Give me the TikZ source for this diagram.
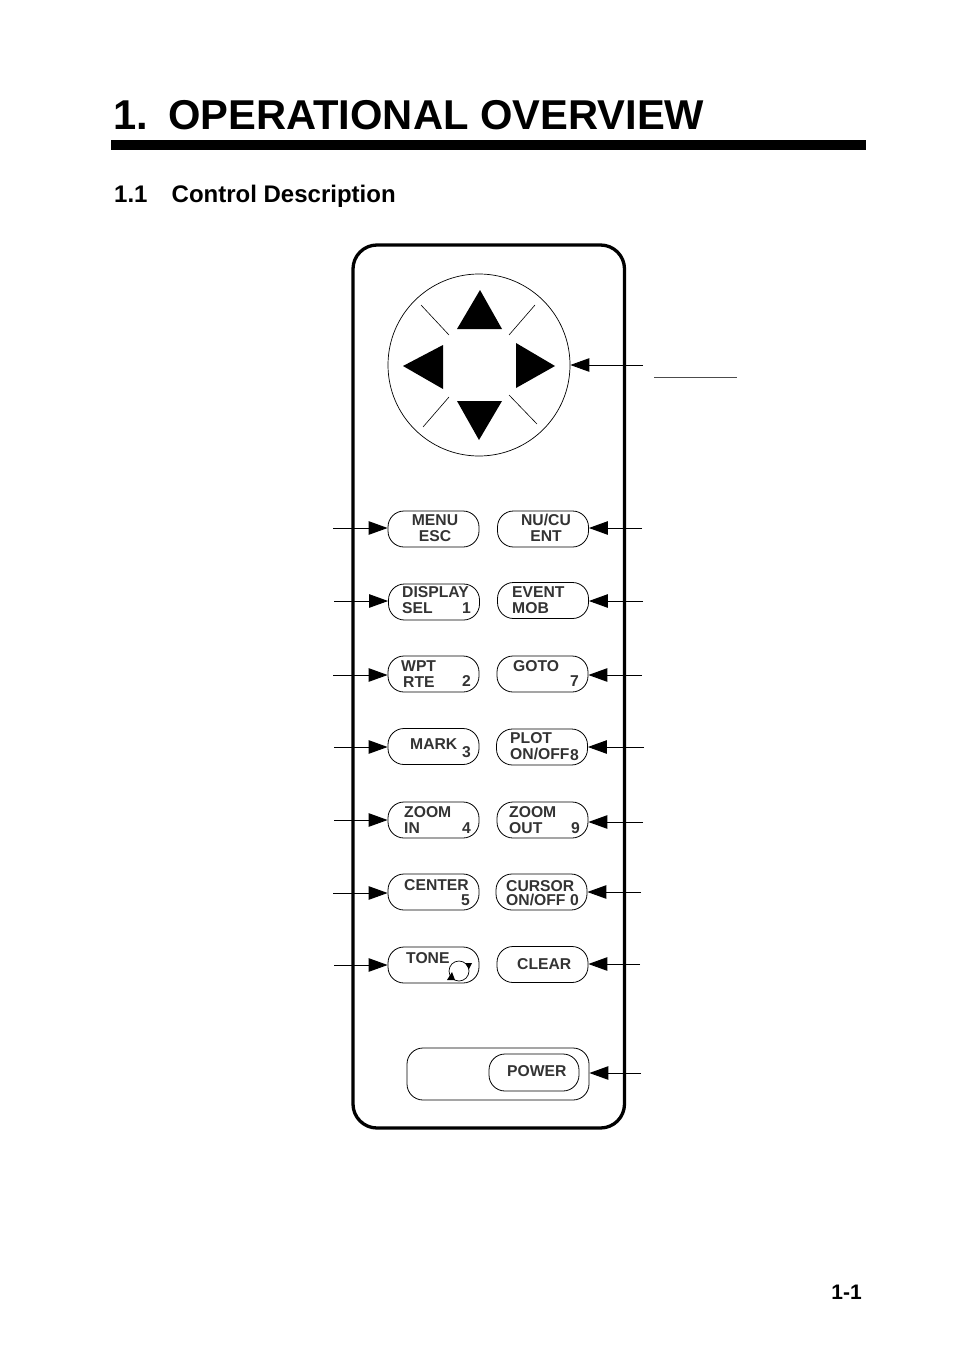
\documentclass[tikz,border=0pt]{standalone}
\usepackage{fontspec}
\setmainfont{Liberation Sans}
\usetikzlibrary{arrows.meta}
\tikzset{
  keybox/.style={draw,rounded corners=16pt,minimum width=91pt,minimum height=36pt,inner sep=0pt,line width=.8pt},
  keytext/.style={font=\bfseries\fontsize{15.7}{16}\selectfont,text=black!80,inner sep=0pt,align=left,anchor=north west},
  keymid/.style={keytext,align=center,anchor=north},
  keytip/.style={draw,line width=.9pt,-{Triangle[length=19pt,width=13.5pt]}}
}
\begin{document}
\begin{tikzpicture}[x=1pt,y=-1pt]
  \useasboundingbox (0,0) rectangle (954,1351);

  \node[font=\bfseries\fontsize{41.7}{42}\selectfont,anchor=base west,inner sep=0pt] (num) at (113,130) {1.};
  \node[font=\bfseries\fontsize{41.7}{42}\selectfont,anchor=base west,inner sep=0pt] (title) at (168,130) {OPERATIONAL OVERVIEW};
  \fill (111,140) rectangle (866,150);
  \node[font=\bfseries\fontsize{24}{24}\selectfont,anchor=base west,inner sep=0pt] (secnum) at (114,202) {1.1};
  \node[font=\bfseries\fontsize{24}{24}\selectfont,anchor=base west,inner sep=0pt] (section) at (171.5,202) {Control Description};
  \node[font=\bfseries\fontsize{21}{21}\selectfont,anchor=base east,inner sep=0pt] (page) at (862,1299) {1-1};

  % body and pad
  \draw[line width=3.3pt,rounded corners=24pt] (353,245) rectangle (624.5,1128);
  \node[draw,circle,minimum size=182pt,inner sep=0pt,line width=.7pt] (pad) at (479,365) {};
  \fill (480,290) -- (457,329) -- (502,329) -- cycle;
  \fill (403,366) -- (443,345) -- (443,389) -- cycle;
  \fill (555,366) -- (516,343) -- (516,388) -- cycle;
  \fill (479,440) -- (457,401) -- (502,401) -- cycle;
  \draw[line width=.6pt] (421,305) -- (449,335);
  \draw[line width=.6pt] (535,305) -- (509,335);
  \draw[line width=.6pt] (423,427) -- (449,397);
  \draw[line width=.6pt] (537,424) -- (509,395);
  \draw[line width=.7pt,black!70] (654,377) -- (737,377);

  % keys
  \begin{scope}[every node/.style={keybox}]
    \node (menu)    at (433.5,529) {};
    \node (display) at (434,602) {};
    \node (wpt)     at (433.5,674) {};
    \node (mark)    at (433.5,746.5) {};
    \node (zoomin)  at (433.5,820) {};
    \node (center)  at (433.5,892) {};
    \node (tone)    at (433.5,965) {};
    \node (nucu)    at (543,529) {};
    \node (event)   at (543,600.5) {};
    \node (goto)    at (542.5,674) {};
    \node (plot)    at (542,747) {};
    \node (zoomout) at (542.5,820) {};
    \node (cursor)  at (541.5,892) {};
    \node (clear)   at (542.5,964.5) {};
    \node[minimum width=182pt,minimum height=52pt] (bay) at (498,1074) {};
    \node[minimum width=90pt,minimum height=37pt] (power) at (534,1072.5) {};
  \end{scope}

  % key texts
  \begin{scope}[every node/.style={keytext}]
    \node[keymid] (menut)  at (435,514.3) {MENU\\ESC};
    \node[keymid] (nucut)  at (546,514) {NU/CU\\ENT};
    \node (displayt) at (402,586.4) {DISPLAY\\SEL};
    \node (eventt)   at (512,586.4) {EVENT\\MOB};
    \node (wptt)     at (401,660.3) {WPT};
    \node (rtet)     at (403,676) {RTE};
    \node (gotot)    at (513,660) {GOTO};
    \node (markt)    at (410,738) {MARK};
    \node (plott)    at (510,732) {PLOT\\ON/OFF};
    \node (zoomint)  at (404,806) {ZOOM\\IN};
    \node (zoomoutt) at (509,806) {ZOOM\\OUT};
    \node (centert)  at (404,879) {CENTER};
    \node (cursort)  at (506,880) {CURSOR};
    \node (cursoru)  at (506,894) {ON/OFF};
    \node (tonet)    at (406,952) {TONE};
    \node (cleart)   at (517,958) {CLEAR};
    \node (powert)   at (507,1065) {POWER};
    \node (dig1) at (462,602.4) {1};
    \node (dig2) at (462,675) {2};
    \node (dig3) at (462,746) {3};
    \node (dig4) at (462,822) {4};
    \node (dig5) at (461,894.4) {5};
    \node (dig7) at (570,675) {7};
    \node (dig8) at (570,749) {8};
    \node (dig9) at (571,822) {9};
    \node (dig0) at (570,894) {0};
  \end{scope}

  % tone knob
  \draw[line width=.7pt] (459,971) circle (10);
  \fill (465,963) -- (472,963) -- (469,969) -- cycle;
  \fill (447,980) -- (455,980) -- (452,972) -- cycle;

  % leaders
  \coordinate (lmenu)    at (333,528);
  \coordinate (ldisplay) at (334,601);
  \coordinate (lwpt)     at (333,675);
  \coordinate (lmark)    at (334,747);
  \coordinate (lzoomin)  at (334,820);
  \coordinate (lcenter)  at (333,893);
  \coordinate (ltone)    at (334,965);
  \coordinate (rpad)     at (643,365);
  \coordinate (rnucu)    at (642,528);
  \coordinate (revent)   at (643,601);
  \coordinate (rgoto)    at (642,675);
  \coordinate (rplot)    at (644,747);
  \coordinate (rzoomout) at (643,822);
  \coordinate (rcursor)  at (641,892);
  \coordinate (rclear)   at (640,964);
  \coordinate (rbay)     at (641,1073);

  \begin{scope}[every edge/.style={keytip}]
    \path (lmenu)    edge (lmenu -| menu.west);
    \path (ldisplay) edge (ldisplay -| display.west);
    \path (lwpt)     edge (lwpt -| wpt.west);
    \path (lmark)    edge (lmark -| mark.west);
    \path (lzoomin)  edge (lzoomin -| zoomin.west);
    \path (lcenter)  edge (lcenter -| center.west);
    \path (ltone)    edge (ltone -| tone.west);
    \path (rpad)     edge (rpad -| pad.east);
    \path (rnucu)    edge (rnucu -| nucu.east);
    \path (revent)   edge (revent -| event.east);
    \path (rgoto)    edge (rgoto -| goto.east);
    \path (rplot)    edge (rplot -| plot.east);
    \path (rzoomout) edge (rzoomout -| zoomout.east);
    \path (rcursor)  edge (rcursor -| cursor.east);
    \path (rclear)   edge (rclear -| clear.east);
    \path (rbay)     edge (rbay -| bay.east);
  \end{scope}
\end{tikzpicture}
\end{document}
